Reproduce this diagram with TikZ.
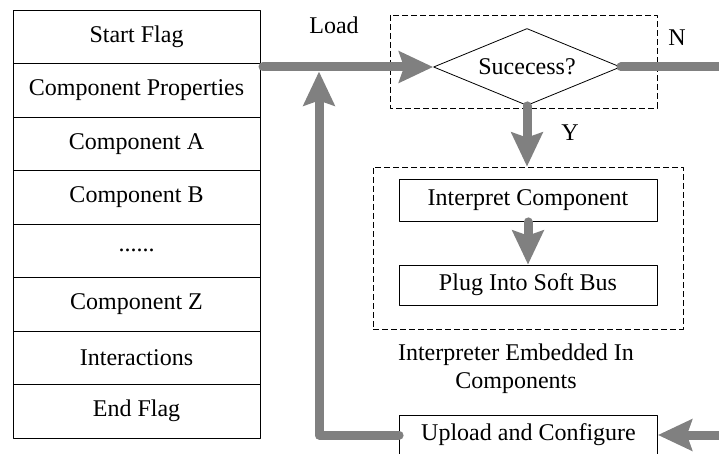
\documentclass[tikz,border=0pt]{standalone}
\usepackage{fontspec}
\setmainfont{Liberation Serif}
\usetikzlibrary{positioning,shapes.geometric,arrows.meta}
\tikzset{
	field/.style={draw, line width=0.8pt, minimum width=247pt, minimum height=53.5pt, inner sep=0pt, outer sep=0pt},
	stepbox/.style={draw, line width=0.8pt, minimum width=258pt, minimum height=42pt, inner sep=0pt},
	dashbox/.style={draw, line width=0.8pt, dash pattern=on 6pt off 3pt},
	flow/.style={draw=gray, line width=9pt, line cap=round, -{Stealth[length=34pt, width=31pt, inset=5pt]}}
}
\begin{document}
\begin{tikzpicture}[x=1pt, y=-1pt, font=\fontsize{24}{28}\selectfont\rmfamily, line join=round]
	\clip (0,0) rectangle (719,454);
	% package layout
	\node[field] (f1) at (136.5,36.75) {Start Flag};
	\node[field, below=0pt of f1] (f2) {Component Properties};
	\node[field, below=0pt of f2] (f3) {Component A};
	\node[field, below=0pt of f3] (f4) {Component B};
	\node[field, below=0pt of f4] (f5) {......};
	\node[field, below=0pt of f5] (f6) {Component Z};
	\node[field, below=0pt of f6] (f7) {Interactions};
	\node[field, below=0pt of f7] (f8) {End Flag};
	% check and interpret
	\draw[dashbox] (390,15) rectangle (657,108);
	\node[draw, line width=0.8pt, diamond, aspect=2.4, inner sep=0pt, minimum width=187pt, minimum height=77pt] (ok) at (527,67) {Sucecess?};
	\node[dashbox, minimum width=310pt, minimum height=162pt] (embed) at (528,248) {};
	\node[stepbox] (interp) at (528,200.5) {Interpret Component};
	\node[stepbox, minimum height=40pt] (plug) at (528,285) {Plug Into Soft Bus};
	\node[stepbox, minimum height=40pt] (up) at (528.5,435) {Upload and Configure};
	\node (load) at (334,25) {Load};
	\node (no) at (677,38) {N};
	\node (yes) at (570,133) {Y};
	\node[align=center, inner sep=0pt] (cap) at (516,369) {Interpreter Embedded In\\Components};
	\coordinate (start) at (263,67);
	\coordinate (join) at (319,67);
	\coordinate (nout) at (725,67);
	\coordinate (uin) at (725,435);
	% arrows
	\draw[flow] (start) -- (ok.west);
	\draw[flow, -] (ok.east) -- (nout);
	\draw[flow] (ok.south) -- (ok.south |- embed.north);
	\draw[flow] (interp.south) -- (plug.north);
	\draw[flow, shorten >=4.5pt] (up.west) -| (join);
	\draw[flow] (uin) -- (up.east);
\end{tikzpicture}
\end{document}
